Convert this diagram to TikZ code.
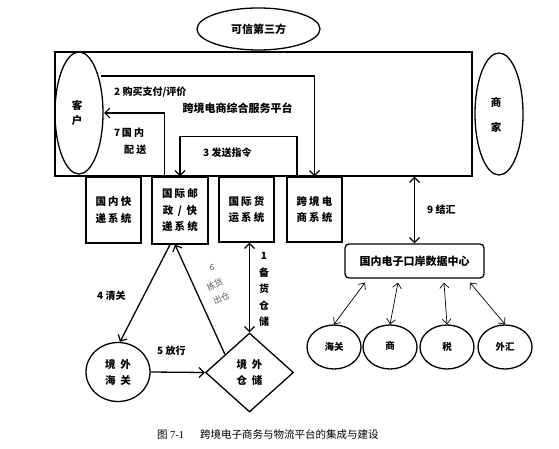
\documentclass[tikz,border=0pt]{standalone}
\usepackage{fontspec}
\usetikzlibrary{shapes.geometric,arrows.meta,calc}
\newfontfamily\cjk{Noto Sans CJK SC}
\newfontfamily\cjkw[LetterSpace=20]{Noto Sans CJK SC}
\newfontfamily\serifnum{Liberation Serif}
\tikzset{
  lw/.style={line width=1.3pt},
  hb/.style={font=\cjk\bfseries\fontsize{10}{16}\selectfont, align=center, inner sep=0pt},
  lab/.style={font=\cjk\bfseries\fontsize{10}{13}\selectfont, inner sep=0pt, anchor=west},
  sysbox/.style={draw, lw, minimum width=55pt, minimum height=66pt, inner sep=0pt,
                 font=\cjkw\bfseries\fontsize{10.5}{16.5}\selectfont, align=center},
  arr/.style={lw, -{Straight Barb[length=5pt,width=10pt,line width=1.2pt]}},
  darr/.style={lw, {Straight Barb[length=5pt,width=10pt,line width=1.2pt]}-{Straight Barb[length=5pt,width=10pt,line width=1.2pt]}},
  thin/.style={line width=0.7pt, {Straight Barb[length=5pt,width=9pt,line width=0.7pt]}-{Straight Barb[length=5pt,width=9pt,line width=0.7pt]}},
  circ/.style={draw, lw, ellipse, minimum width=54pt, minimum height=44pt, inner sep=0pt,
               font=\cjk\bfseries\fontsize{9.5}{12}\selectfont},
  graylab/.style={font=\cjk\fontsize{8.5}{15}\selectfont, text=black!65, inner sep=0pt},
}
\begin{document}
\begin{tikzpicture}[x=1pt,y=-1pt]
\useasboundingbox (0,0) rectangle (559,449);
\fill[white] (0,0) rectangle (559,449);

% top ellipse
\node[draw, lw, ellipse, minimum width=123pt, minimum height=42pt, font=\cjk\bfseries\fontsize{11}{13}\selectfont] (third) at (258.5,29) {可信第三方};

% platform
\node[draw, lw, minimum width=417pt, minimum height=124pt, inner sep=0pt] (plat) at (263.5,114) {};
\node[font=\cjk\bfseries\fontsize{11}{13}\selectfont, inner sep=0pt] (platlab) at (237.5,108) {跨境电商综合服务平台};

% side ellipses
\node[draw, lw, ellipse, minimum width=48pt, minimum height=122pt, inner sep=0pt] (kehu) at (79,113) {};
\node[hb, font=\cjk\bfseries\fontsize{10.5}{15}\selectfont] (kehut) at (77,112.5) {客\\户};
\node[draw, lw, ellipse, minimum width=48pt, minimum height=122pt, inner sep=0pt] (shang) at (499,114) {};
\node[hb, font=\cjk\bfseries\fontsize{10.5}{25}\selectfont] (shangt) at (496,114.5) {商\\家};

% system boxes
\node[sysbox] (b1) at (113.5,210) {国内快\\递系统};
\node[sysbox, minimum width=56pt, minimum height=67pt] (b2) at (180,210.5) {国际邮\\政 / 快\\递系统};
\node[sysbox, minimum height=65pt] (b3) at (246.5,209.5) {国际货\\运系统};
\node[sysbox, minimum height=65pt] (b4) at (314.5,209.5) {跨境电\\商系统};

% data center
\node[draw, lw, rounded corners=4pt, minimum width=139pt, minimum height=34pt,
      font=\cjk\bfseries\fontsize{11}{13}\selectfont] (dc) at (414.5,261) {国内电子口岸数据中心};

% bottom circles
\node[circ] (c1) at (334,347) {海关};
\node[circ] (c2) at (390,347) {\raisebox{3pt}{商}};
\node[circ] (c3) at (447,347) {税};
\node[circ] (c4) at (505,347) {外汇};

% overseas
\node[draw, lw, ellipse, minimum width=64pt, minimum height=59pt, inner sep=0pt,
      font=\cjk\bfseries\fontsize{10.5}{16}\selectfont, align=center] (hg) at (118,372) {境\ \ 外\\海\ \ 关};
\node[draw, lw, diamond, minimum width=88pt, minimum height=79pt, inner sep=0pt,
      font=\cjk\bfseries\fontsize{10.5}{16}\selectfont, align=center] (dia) at (249.5,372.5) {境\ \ 外\\仓\ \ 储};

% coordinates
\coordinate (k2) at (101,76);
\coordinate (k7) at (104,113);

% connector 2
\draw[arr] (k2) -- (k2 -| b4.north) -- (b4.north);
\node[lab] (l2) at (114,92) {2 购买支付/评价};
% connector 7
\draw[arr] ([xshift=-15.5pt]b2.north) |- (k7);
\node[lab] (l7a) at (114,133) {7\,国\ 内};
\node[lab] (l7b) at (124,149.5) {配\ 送};
% connector 3
\draw[arr] ([xshift=-17.5pt]b4.north) |- ($(b2.north)+(0,-40)$) -- (b2.north);
\node[lab] (l3) at (203,153) {3 发送指令};
% connector 9
\draw[darr] (dc.north |- plat.south) -- (dc.north);
\node[lab] (l9) at (427,210) {9 结汇};

% thin arrows
\draw[thin] ([xshift=-49.5pt,yshift=-4pt]dc.south) -- (c1.north);
\draw[thin] ([xshift=-16.5pt,yshift=-4pt]dc.south) -- (c2.north);
\draw[thin] ([xshift=29.5pt,yshift=-4pt]dc.south) -- (c3.north);
\draw[thin] ([xshift=55.5pt,yshift=-4pt]dc.south) -- (c4.north);

% connector 4
\draw[arr] ([xshift=-10pt]b2.south) -- ([xshift=2pt]hg.north);
\node[lab] (l4) at (97,296) {4 清关};
% connector 6
\draw[arr] ($(dia.west)!0.45!(dia.north)$) -- ([xshift=-5pt]b2.south);
\node[graylab] (l6) at (212,267) {6};
\node[graylab, rotate=25, align=left] (l6a) at (218,291.5) {拣货\\出仓};
% connector 1
\draw[darr] (dia.north |- b3.south) -- (dia.north);
\node[hb, font=\cjk\bfseries\fontsize{10}{16.6}\selectfont] (l1) at (264,289.5) {1\\备\\货\\仓\\储};
% connector 5
\draw[arr] (hg.east) -- (dia.west);
\node[lab] (l5) at (157,351) {5 放行};

% caption
\node[font=\cjk\fontsize{10.5}{13}\selectfont, inner sep=0pt, anchor=west] (cap) at (157,435)
  {图 {\serifnum 7-1}\hspace{16pt}跨境电子商务与物流平台的集成与建设};
\end{tikzpicture}
\end{document}
